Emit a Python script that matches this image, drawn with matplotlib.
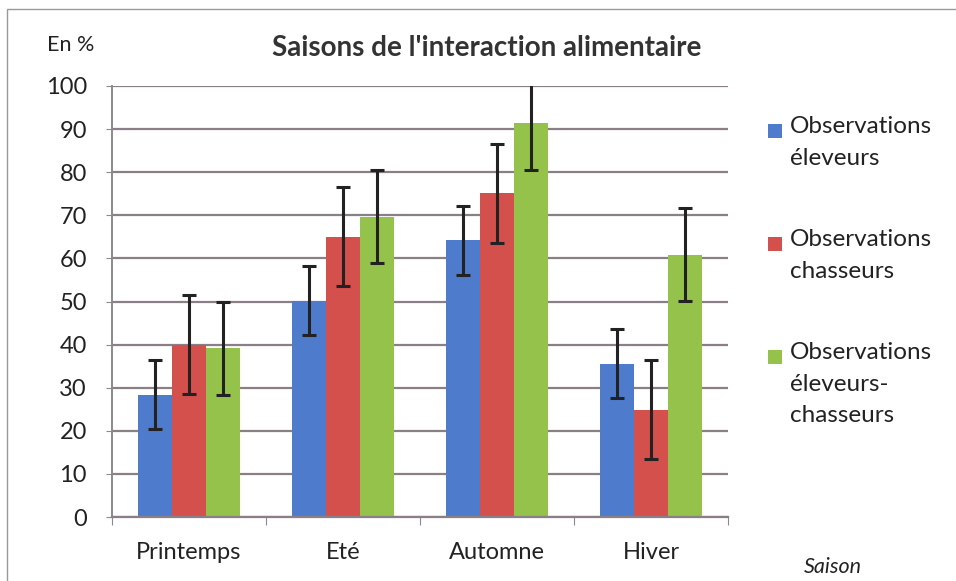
import matplotlib as mpl

mpl.use('Agg')
import matplotlib.pyplot as plt
import numpy as np
from matplotlib.patches import Rectangle

plt.rcParams['font.family'] = ['Lato', 'DejaVu Sans']

saisons = ['Printemps', 'Eté', 'Automne', 'Hiver']
series = ['Observations\néleveurs', 'Observations\nchasseurs',
          'Observations\néleveurs-\nchasseurs']
eleveurs = [28.4, 50.2, 64.2, 35.6]
chasseurs = [40.0, 65.0, 75.1, 24.9]
elev_chass = [39.1, 69.7, 91.3, 60.9]
err_eleveurs = [8, 8, 8, 8]
err_chasseurs = [11.5, 11.5, 11.5, 11.5]
err_elev_chass = [10.8, 10.8, 10.8, 10.8]
colors = ['#4f7bcc', '#d4504c', '#95c24b']

fig = plt.figure(figsize=(9.56, 5.81), dpi=100)
ax = fig.add_axes([112 / 956, 1 - 517 / 581, 616 / 956, 431 / 581])

x = np.arange(len(saisons))
w = 0.22
vals = [eleveurs, chasseurs, elev_chass]
errs = [err_eleveurs, err_chasseurs, err_elev_chass]
for i in range(3):
    ax.bar(x + (i - 1) * w, vals[i], w, color=colors[i], label=series[i], zorder=2)
    ax.errorbar(x + (i - 1) * w, vals[i], yerr=errs[i], fmt='none', ecolor='#222222',
                elinewidth=2.2, capsize=5, capthick=2.2, zorder=3)

ax.set_xlim(-0.5, 3.5)
ax.set_ylim(0, 100)
ax.set_yticks(np.arange(0, 101, 10))
ax.yaxis.grid(True, color='#8a7f86', linewidth=1.6, zorder=0)
ax.set_axisbelow(True)
for s in ['top', 'right']:
    ax.spines[s].set_visible(False)
ax.spines['left'].set_color('#8a8a8a')
ax.spines['bottom'].set_color('#8a7f86')
ax.spines['left'].set_linewidth(1.4)
ax.spines['bottom'].set_linewidth(1.6)
ax.set_xticks(np.arange(-0.5, 3.6, 1))
ax.set_xticklabels([])
ax.set_xticks(x, minor=True)
ax.set_xticklabels(saisons, minor=True, fontsize=17, color='#222222')
ax.tick_params(axis='x', which='major', length=6, color='#8a8a8a', direction='out')
ax.tick_params(axis='x', which='minor', length=0, pad=18)
ax.tick_params(axis='y', length=4, color='#8a8a8a', labelsize=17, labelcolor='#222222', pad=14)

fig.text(487 / 956, 1 - 48 / 581, "Saisons de l'interaction alimentaire", ha='center',
         va='center', fontsize=20, fontweight='bold', color='#333333')
fig.text(47 / 956, 1 - 45 / 581, 'En %', ha='left', va='center', fontsize=15.5, color='#222222')
fig.text(833 / 956, 1 - 567 / 581, 'Saison', ha='center', va='center', fontsize=15.5,
         style='italic', color='#222222')

# legend, square aligned with first line of each label
leg_y = [131, 244, 357]
for i in range(3):
    fig.patches.append(Rectangle((768 / 956, 1 - (leg_y[i] + 7) / 581), 14 / 956, 14 / 581,
                                 transform=fig.transFigure, facecolor=colors[i],
                                 edgecolor='none'))
    fig.text(790 / 956, 1 - (leg_y[i] - 15) / 581, series[i], ha='left', va='top',
             fontsize=17.5, color='#222222', linespacing=1.62)

fig.patches.append(Rectangle((7 / 956, -0.1), 1.1, 1 - 9 / 581 + 0.1,
                             transform=fig.transFigure, fill=False,
                             edgecolor='#999999', linewidth=1.0))

fig.savefig('out.png', dpi=100)
